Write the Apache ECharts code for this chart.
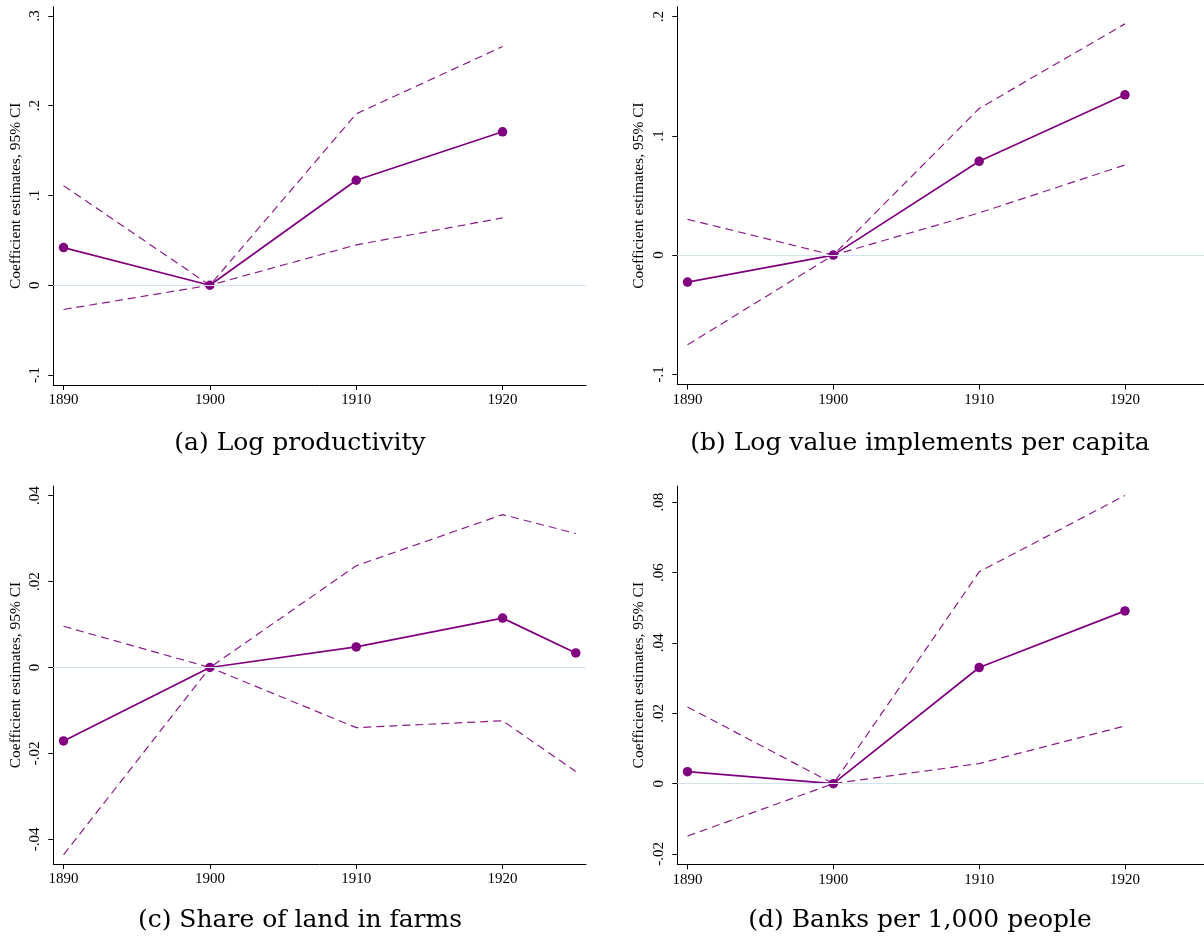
<!DOCTYPE html>
<html>
<head>
<meta charset="utf-8">
<script src="https://cdn.jsdelivr.net/npm/echarts@6/dist/echarts.min.js"></script>
<style>
html,body{margin:0;padding:0;background:#fff;}
#chart{width:1204px;height:941px;}
</style>
</head>
<body>
<div id="chart"></div>
<script>
// ---- Data ----
const yearsA = [1890, 1900, 1910, 1920];
const coefA  = [0.042, 0, 0.117, 0.171];
const upperA = [0.111, 0, 0.191, 0.266];
const lowerA = [-0.027, 0, 0.045, 0.075];

const yearsB = [1890, 1900, 1910, 1920];
const coefB  = [-0.0226, 0, 0.0787, 0.1345];
const upperB = [0.030, 0, 0.123, 0.194];
const lowerB = [-0.0753, 0, 0.0354, 0.0756];

const yearsC = [1890, 1900, 1910, 1920, 1925];
const coefC  = [-0.0171, 0, 0.0048, 0.0115, 0.0034];
const upperC = [0.0096, 0, 0.0237, 0.0356, 0.0312];
const lowerC = [-0.0436, 0, -0.0140, -0.0124, -0.0242];

const yearsD = [1890, 1900, 1910, 1920];
const coefD  = [0.0034, 0, 0.033, 0.0491];
const upperD = [0.0218, 0, 0.0602, 0.0819];
const lowerD = [-0.0149, 0, 0.0057, 0.0164];

const xTicks = [1890, 1900, 1910, 1920];
const yTicksA = [-0.1, 0, 0.1, 0.2, 0.3];
const yLabelsA = ['-.1', '0', '.1', '.2', '.3'];
const yTicksB = [-0.1, 0, 0.1, 0.2];
const yLabelsB = ['-.1', '0', '.1', '.2'];
const yTicksC = [-0.04, -0.02, 0, 0.02, 0.04];
const yLabelsC = ['-.04', '-.02', '0', '.02', '.04'];
const yTicksD = [-0.02, 0, 0.02, 0.04, 0.06, 0.08];
const yLabelsD = ['-.02', '0', '.02', '.04', '.06', '.08'];

const captions = ['(a) Log productivity', '(b) Log value implements per capita',
                  '(c) Share of land in farms', '(d) Banks per 1,000 people'];
const yTitle = 'Coefficient estimates, 95% CI';

// ---- Layout / style ----
const PURPLE = '#800080';
const DASH_PURPLE = '#8C1C8C';
const tickFont = 'Liberation Serif';
const grids = [
  {left: 53.3, top: 6.7, width: 532.7, height: 378.3},
  {left: 677.3, top: 6.7, width: 530.8, height: 377.8},
  {left: 53.3, top: 486, width: 532.7, height: 378},
  {left: 677.3, top: 486, width: 530.8, height: 378.3}
];
const yRanges = [[-0.11114, 0.31036], [-0.10856, 0.2084], [-0.04575, 0.04226], [-0.02293, 0.0846]];
const yTickSets = [yTicksA, yTicksB, yTicksC, yTicksD];
const yLabelSets = [yLabelsA, yLabelsB, yLabelsC, yLabelsD];
const panels = [
  [yearsA, coefA, upperA, lowerA],
  [yearsB, coefB, upperB, lowerB],
  [yearsC, coefC, upperC, lowerC],
  [yearsD, coefD, upperD, lowerD]
];
const nameGaps = [29, 30, 29, 30];

const xAxes = [], yAxes = [], series = [];
grids.forEach((g, i) => {
  xAxes.push({
    type: 'value', gridIndex: i, min: 1889.3, max: 1925.7,
    axisLine: {show: true, onZero: false, lineStyle: {color: '#000', width: 1}},
    axisTick: {show: true, length: 5, customValues: xTicks, lineStyle: {color: '#000'}},
    axisLabel: {customValues: xTicks, margin: 8, color: '#000', fontFamily: tickFont, fontSize: 15,
                formatter: v => String(v)},
    splitLine: {show: false}
  });
  const ticks = yTickSets[i], labels = yLabelSets[i];
  yAxes.push({
    type: 'value', gridIndex: i, min: yRanges[i][0], max: yRanges[i][1],
    name: yTitle, nameLocation: 'middle', nameRotate: 90, nameGap: nameGaps[i],
    nameTextStyle: {color: '#000', fontFamily: tickFont, fontSize: 15.5},
    axisLine: {show: true, onZero: false, lineStyle: {color: '#000', width: 1}},
    axisTick: {show: true, length: 5, customValues: ticks, lineStyle: {color: '#000'}},
    axisLabel: {customValues: ticks, rotate: 90, margin: 11, color: '#000', fontFamily: tickFont, fontSize: 15,
                formatter: v => {
                  let k = ticks.findIndex(t => Math.abs(t - v) < 1e-9);
                  return k >= 0 ? labels[k] : '';
                }},
    splitLine: {show: false}
  });
  const [yrs, coef, up, lo] = panels[i];
  series.push({
    type: 'line', xAxisIndex: i, yAxisIndex: i, data: yrs.map((y, k) => [y, up[k]]),
    showSymbol: false, symbol: 'none', silent: true,
    lineStyle: {color: DASH_PURPLE, width: 1.2, type: [8, 5]},
    markLine: {silent: true, symbol: 'none', label: {show: false},
               lineStyle: {color: '#D2E3EA', width: 1.2, type: 'solid'},
               data: [{yAxis: 0}]}
  });
  series.push({
    type: 'line', xAxisIndex: i, yAxisIndex: i, data: yrs.map((y, k) => [y, lo[k]]),
    showSymbol: false, symbol: 'none', silent: true,
    lineStyle: {color: DASH_PURPLE, width: 1.2, type: [8, 5]}
  });
  series.push({
    type: 'line', xAxisIndex: i, yAxisIndex: i, data: yrs.map((y, k) => [y, coef[k]]),
    symbol: 'circle', symbolSize: 9.5, silent: true,
    itemStyle: {color: PURPLE},
    lineStyle: {color: PURPLE, width: 1.7}
  });
});

const capFont = {fontFamily: 'DejaVu Serif', fontSize: 25, fontWeight: 'normal', color: '#000'};
const titles = [
  {text: captions[0], left: 300, top: 443},
  {text: captions[1], left: 920, top: 443},
  {text: captions[2], left: 300, top: 920},
  {text: captions[3], left: 920, top: 920}
].map(t => ({text: t.text, left: t.left, top: t.top, textAlign: 'center', textVerticalAlign: 'middle',
             padding: 0, textStyle: capFont}));

const chart = echarts.init(document.getElementById('chart'), null, {renderer: 'canvas'});
chart.setOption({
  backgroundColor: '#fff',
  animation: false,
  title: titles,
  grid: grids.map(g => Object.assign({outerBoundsMode: 'none', containLabel: false}, g)),
  xAxis: xAxes,
  yAxis: yAxes,
  series: series
});
</script>
</body>
</html>
